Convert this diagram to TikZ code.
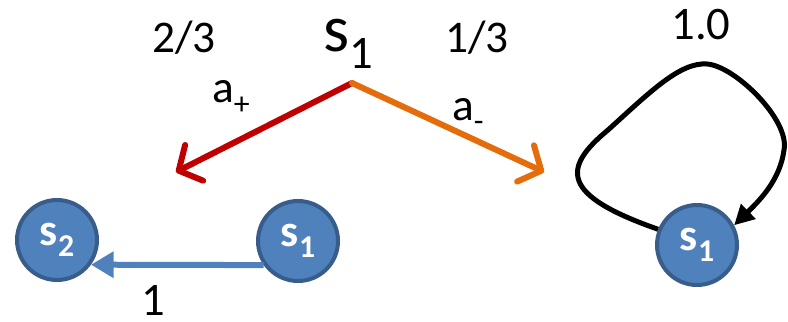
\documentclass[tikz,border=0pt]{standalone}
\usepackage{fontspec}
\setmainfont{Carlito}
\usetikzlibrary{positioning,arrows.meta}
\definecolor{stblue}{HTML}{4F81BD}
\definecolor{stedge}{HTML}{385D8A}
\definecolor{plusred}{HTML}{C00000}
\definecolor{minusorange}{HTML}{E46C0A}
\newcommand\lowsub[1]{\raisebox{-.25em}{\scalebox{.7}{#1}}}

\begin{document}
\begin{tikzpicture}[x=0.75pt,y=-0.75pt,
state/.style={circle,draw=stedge,fill=stblue,line width=3pt,minimum size=60pt,inner sep=0pt,text=white,font=\fontsize{34}{36}\selectfont\bfseries},
lbl/.style={inner sep=0pt,font=\fontsize{34}{36}\selectfont},
act/.style={-{Straight Barb[length=13pt,width=30pt,round]},line width=4.5pt,line cap=round},
trans/.style={-{Triangle[length=17pt,width=19pt]},line width=4.5pt,draw=stblue},
selfloop/.style={-{Triangle[length=15pt,width=15pt]},line width=3.75pt}]
\useasboundingbox (0,0) rectangle (788,321);
\node[state] (s2) at (57,240) {s\lowsub{2}};
\node[state] (s1) at (298,241) {s\lowsub{1}};
\node[state] (s1r) at (697,245) {s\lowsub{1}};
\node[lbl,font=\fontsize{50}{52}\selectfont,anchor=base west] (root) at (323,52) {s\lowsub{1}};
\node[lbl,anchor=base west] (pplus) at (152,53) {2/3};
\node[lbl,anchor=base west] (pminus) at (445,53) {1/3};
\node[lbl,font=\fontsize{34}{36}\selectfont,anchor=base west] (aplus) at (212,103) {a\lowsub{+}};
\node[lbl,font=\fontsize{34}{36}\selectfont,anchor=base west] (aminus) at (452,120) {a\lowsub{-}};
\node[lbl,font=\fontsize{35}{38}\selectfont,anchor=base] (pone) at (153,315) {1};
\node[lbl,font=\fontsize{35}{38}\selectfont,anchor=base] (pstay) at (701,40) {1.0};
\coordinate (apex) at (352,83);
\coordinate (tipl) at (176,172);
\coordinate (tipr) at (544,172);
\draw[act,plusred] (apex) -- (tipl);
\draw[act,minusorange] (apex) -- (tipr);
\draw[trans] (s1.215) -- (s2.324);
\draw[selfloop] (s1r.158) .. controls (560,195) and (562,168) .. (608,130)
  .. controls (650,92) and (680,62) .. (707,64)
  .. controls (735,66) and (790,120) .. (784,150)
  .. controls (780,180) and (760,200) .. (s1r.28);
\end{tikzpicture}
\end{document}
